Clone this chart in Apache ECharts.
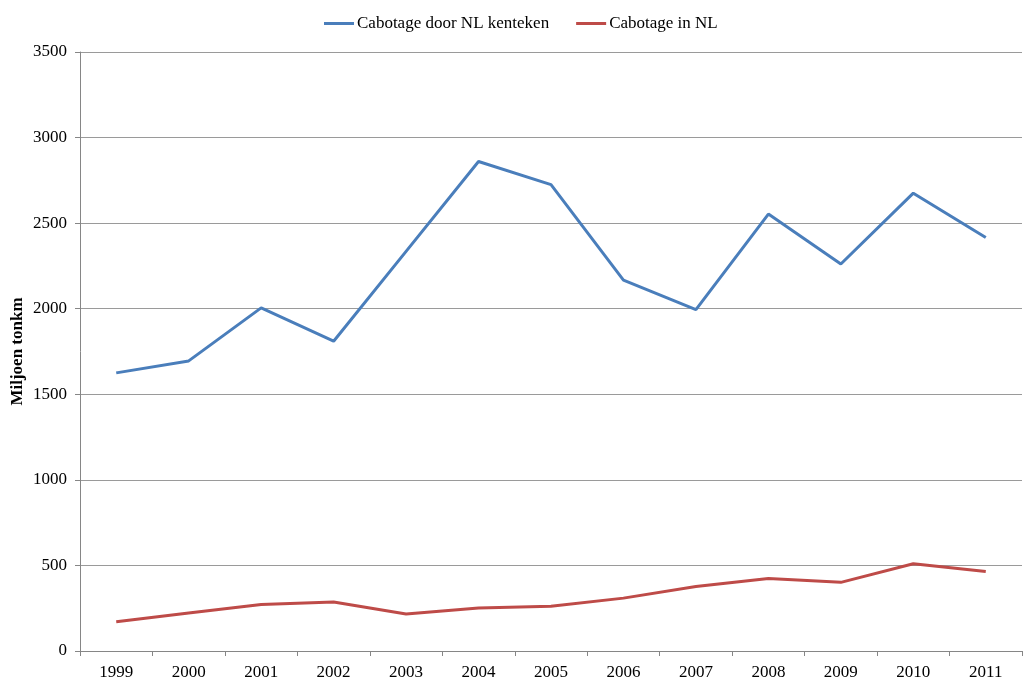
<!DOCTYPE html>
<html>
<head>
<meta charset="utf-8">
<script src="https://cdn.jsdelivr.net/npm/echarts@6/dist/echarts.min.js"></script>
<style>
  html, body { margin: 0; padding: 0; background: #fff; }
  #chart { width: 1029px; height: 679px; }
</style>
</head>
<body>
<div id="chart"></div>
<script>
// jaren op de x-as
var years = ['1999', '2000', '2001', '2002', '2003', '2004', '2005', '2006', '2007', '2008', '2009', '2010', '2011'];
// cabotage door NL kenteken (miljoen tonkm)
var nlKenteken = [1625, 1695, 2005, 1810, 2335, 2860, 2725, 2167, 1995, 2553, 2261, 2675, 2416];
// cabotage in NL (miljoen tonkm)
var inNL = [171, 222, 272, 286, 216, 251, 261, 309, 377, 424, 401, 510, 465];

var serif = 'Liberation Serif';
var chart = echarts.init(document.getElementById('chart'));

chart.setOption({
    animation: false,
    textStyle: { fontFamily: serif },
    legend: {
        top: 10,
        left: 319,
        itemGap: 27,
        itemWidth: 30,
        itemHeight: 3,
        icon: 'rect',
        textStyle: { fontFamily: serif, fontSize: 17, color: '#000', padding: [0, 0, 0, -2] },
        data: ['Cabotage door NL kenteken', 'Cabotage in NL']
    },
    grid: {
        left: 80,
        right: 7,
        top: 52,
        bottom: 28,
        containLabel: false,
        outerBoundsMode: 'none'
    },
    xAxis: {
        type: 'category',
        boundaryGap: true,
        data: years,
        axisLine: { lineStyle: { color: '#868686', width: 1 } },
        axisTick: { show: true, length: 5, lineStyle: { color: '#868686' } },
        axisLabel: { color: '#000', fontSize: 17, fontFamily: serif, margin: 13 }
    },
    yAxis: {
        type: 'value',
        min: 0,
        max: 3500,
        interval: 500,
        name: 'Miljoen tonkm',
        nameLocation: 'middle',
        nameGap: 54,
        nameMoveOverlap: false,
        nameTextStyle: { fontFamily: serif, fontSize: 17, fontWeight: 'bold', color: '#000' },
        axisLine: { show: true, lineStyle: { color: '#868686', width: 1 } },
        axisTick: { show: true, length: 5, lineStyle: { color: '#868686' } },
        axisLabel: {
            color: '#000', fontSize: 17, fontFamily: serif, margin: 13,
            formatter: function (v) { return String(v); }
        },
        splitLine: { lineStyle: { color: '#9a9a9a', width: 1 } }
    },
    series: [
        {
            name: 'Cabotage door NL kenteken',
            type: 'line',
            data: nlKenteken,
            symbol: 'none',
            color: '#4a7ebb',
            lineStyle: { width: 3, color: '#4a7ebb' }
        },
        {
            name: 'Cabotage in NL',
            type: 'line',
            data: inNL,
            symbol: 'none',
            color: '#be4b48',
            lineStyle: { width: 3, color: '#be4b48' }
        }
    ]
});
</script>
</body>
</html>
